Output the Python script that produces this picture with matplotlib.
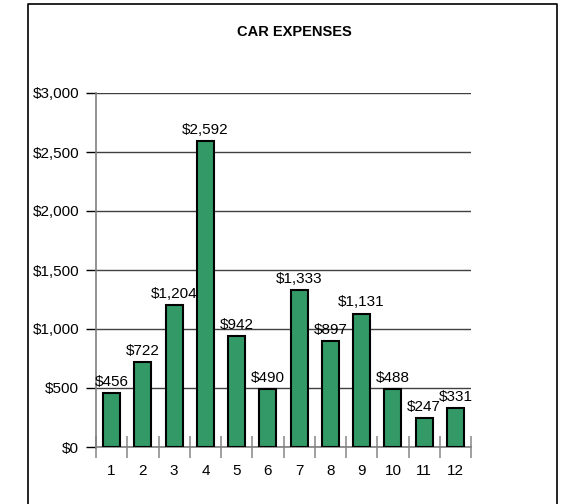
import numpy as np
import matplotlib
matplotlib.use("Agg")
import matplotlib.pyplot as plt
from matplotlib.lines import Line2D
from matplotlib.ticker import FuncFormatter, MultipleLocator

plt.rcParams['font.family'] = ['Liberation Sans', 'DejaVu Sans']

months = ['1', '2', '3', '4', '5', '6', '7', '8', '9', '10', '11', '12']
expenses = [456, 722, 1204, 2592, 942, 490, 1333, 897, 1131, 488, 247, 331]
title = 'CAR EXPENSES'

fig = plt.figure(figsize=(5.67, 5.04), dpi=100)
ax = fig.add_axes([96/567, 1-447/504, 375/567, 354/504])

x = np.arange(len(months))
bars = ax.bar(x, expenses, width=0.55, color='#339966', edgecolor='black', linewidth=1.5, zorder=3)

for xi, v in zip(x, expenses):
  ax.annotate('${:,}'.format(v), (xi, v), xytext=(0, 3), textcoords='offset points',
              ha='center', va='bottom', fontsize=11, zorder=4)

ax.set_xlim(-0.5, len(months) - 0.5)
ax.set_ylim(0, 3000)
ax.yaxis.set_major_locator(MultipleLocator(500))
ax.yaxis.set_major_formatter(FuncFormatter(lambda v, p: '${:,.0f}'.format(v)))
ax.grid(axis='y', color='#404040', linewidth=1, zorder=1)

ax.set_xticks(x)
ax.set_xticklabels(months)
ax.set_xticks(np.arange(-0.5, len(months)), minor=True)
ax.tick_params(axis='x', which='major', length=0, pad=12, labelsize=11)
ax.tick_params(axis='x', which='minor', length=16, direction='inout', color='#909090', width=1.2)
ax.tick_params(axis='y', length=7, width=1, color='black', pad=5, labelsize=11)

for s in ['top', 'right']:
  ax.spines[s].set_visible(False)
ax.spines['left'].set_color('#808080')
ax.spines['bottom'].set_color('#808080')
ax.spines['left'].set_linewidth(1.2)
ax.spines['bottom'].set_linewidth(1.2)

fig.text(0.52, 1-32/504, title, ha='center', va='center', fontsize=10.5, fontweight='bold')

# outer frame (bottom edge falls outside the picture)
x0, x1, y1 = 28/567, 557/567, 1-4/504
fig.add_artist(Line2D([x0, x0, x1, x1], [-0.05, y1, y1, -0.05], color='black', linewidth=1.2))

plt.savefig('out.png', dpi=100)
